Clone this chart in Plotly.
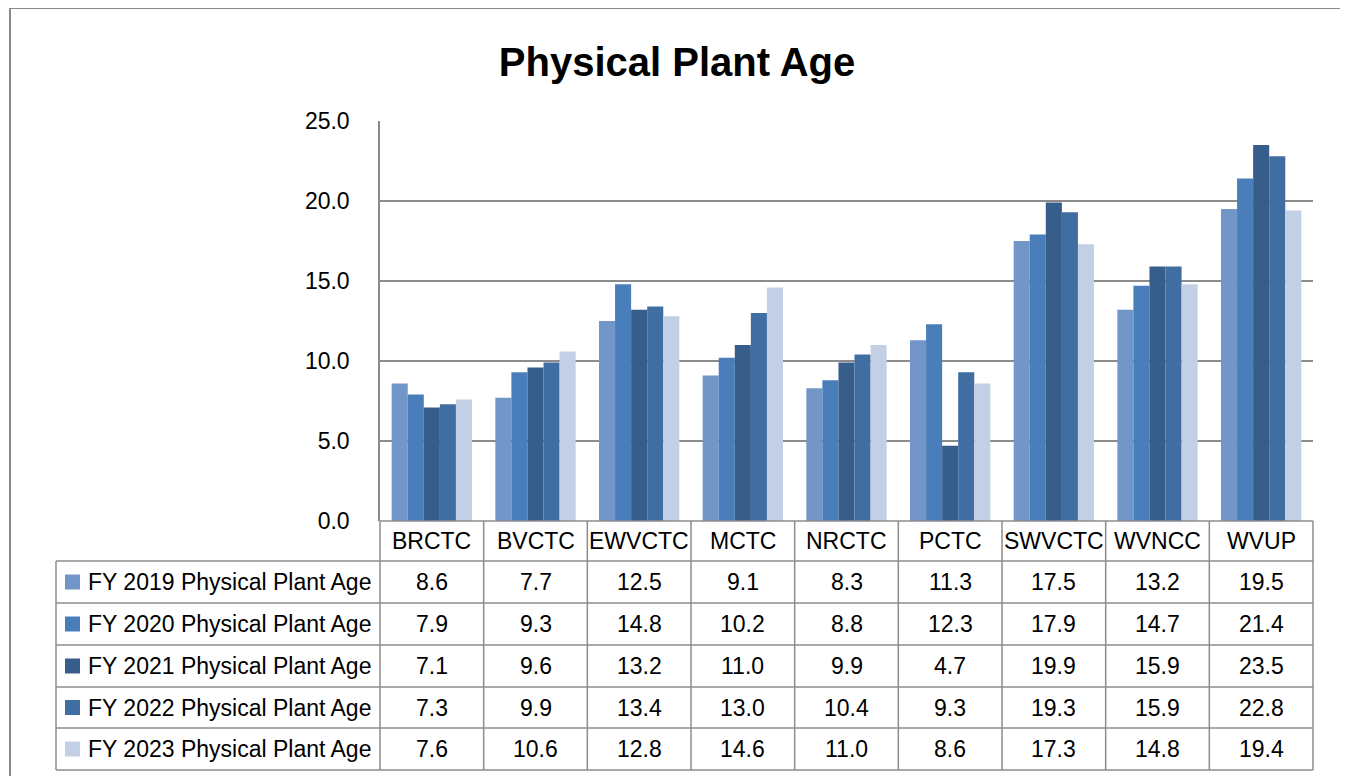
import plotly.graph_objects as go

categories = ["BRCTC", "BVCTC", "EWVCTC", "MCTC", "NRCTC", "PCTC", "SWVCTC", "WVNCC", "WVUP"]
series_names = ["FY 2019 Physical Plant Age", "FY 2020 Physical Plant Age", "FY 2021 Physical Plant Age",
                "FY 2022 Physical Plant Age", "FY 2023 Physical Plant Age"]
fy2019 = [8.6, 7.7, 12.5, 9.1, 8.3, 11.3, 17.5, 13.2, 19.5]
fy2020 = [7.9, 9.3, 14.8, 10.2, 8.8, 12.3, 17.9, 14.7, 21.4]
fy2021 = [7.1, 9.6, 13.2, 11.0, 9.9, 4.7, 19.9, 15.9, 23.5]
fy2022 = [7.3, 9.9, 13.4, 13.0, 10.4, 9.3, 19.3, 15.9, 22.8]
fy2023 = [7.6, 10.6, 12.8, 14.6, 11.0, 8.6, 17.3, 14.8, 19.4]
series_values = [fy2019, fy2020, fy2021, fy2022, fy2023]
colors = ["#7396C8", "#4A7EBB", "#375D8B", "#406EA3", "#C3CFE4"]
y_ticks = [0, 5, 10, 15, 20, 25]

OFF = 8  # page body margin
W, H = 1348 - OFF, 776 - OFF
L, R, T, B = 380 - OFF, 1313 - OFF, 121 - OFF, 521 - OFF
PW, PH = R - L, B - T
FONT = "Liberation Sans"
FS = 23
GRID = "#8c8c8c"

def px(xp):
    return (xp - OFF - L) / PW

def py(yp):
    return (B - (yp - OFF)) / PH

fig = go.Figure()
for name, vals, col in zip(series_names, series_values, colors):
    fig.add_trace(go.Bar(x=categories, y=vals, name=name, marker=dict(color=col, line=dict(width=0))))

shapes = []
ann = []
# outer border
shapes.append(dict(type="rect", xref="paper", yref="paper", x0=px(10), x1=px(1342), y0=py(8), y1=py(800),
                   line=dict(color="#8a8a8a", width=2), layer="below"))
# table geometry
row_lines = [521, 561, 603, 645, 687, 728, 770]
n = len(categories)
tl = dict(color=GRID, width=1.5)
shapes.append(dict(type="line", xref="paper", yref="paper", x0=0, x1=1, y0=py(row_lines[0]), y1=py(row_lines[0]), line=tl))
for yl in row_lines[1:]:
    shapes.append(dict(type="line", xref="paper", yref="paper", x0=px(56), x1=1, y0=py(yl), y1=py(yl), line=tl))
for k in range(n + 1):
    shapes.append(dict(type="line", xref="paper", yref="paper", x0=k / n, x1=k / n,
                       y0=py(row_lines[0]), y1=py(row_lines[-1]), line=tl))
shapes.append(dict(type="line", xref="paper", yref="paper", x0=px(56), x1=px(56),
                   y0=py(row_lines[1]), y1=py(row_lines[-1]), line=tl))

hc = (row_lines[0] + row_lines[1]) / 2
for c in categories:
    ann.append(dict(x=c, xref="x", y=py(hc), yref="paper", text=c, showarrow=False,
                    font=dict(family=FONT, size=FS, color="black"), xanchor="center", yanchor="middle"))
for i, (name, vals, col) in enumerate(zip(series_names, series_values, colors)):
    yc = (row_lines[i + 1] + row_lines[i + 2]) / 2
    shapes.append(dict(type="rect", xref="paper", yref="paper", x0=px(65), x1=px(80),
                       y0=py(yc - 7.5), y1=py(yc + 7.5), fillcolor=col, line=dict(width=0)))
    ann.append(dict(x=px(86), xref="paper", y=py(yc), yref="paper", text=name, showarrow=False,
                    font=dict(family=FONT, size=FS, color="black"), xanchor="left", yanchor="middle"))
    for c, v in zip(categories, vals):
        ann.append(dict(x=c, xref="x", y=py(yc), yref="paper", text=f"{v:.1f}", showarrow=False,
                        font=dict(family=FONT, size=FS, color="black"), xanchor="center", yanchor="middle"))

fig.update_layout(
    width=W, height=H,
    margin=dict(l=L, r=W - R, t=T, b=H - B, pad=0),
    paper_bgcolor="white", plot_bgcolor="white",
    showlegend=False,
    barmode="group", bargap=0.225, bargroupgap=0,
    title=dict(text="<b>Physical Plant Age</b>", x=(677 - OFF) / W, xref="container", xanchor="center",
               y=1 - (62 - OFF) / H, yref="container", yanchor="middle",
               font=dict(family=FONT, size=40, color="black")),
    xaxis=dict(showticklabels=False, showgrid=False, zeroline=False, showline=False, ticks="",
               range=[-0.5, n - 0.5]),
    yaxis=dict(range=[0, 25], tickvals=y_ticks, ticktext=[f"{v:.1f}" for v in y_ticks],
               showgrid=True, gridcolor=GRID, gridwidth=1.5, zeroline=False,
               showline=True, linecolor=GRID, linewidth=1.5, ticks="", ticklabelstandoff=24,
               tickfont=dict(family=FONT, size=FS, color="black")),
    shapes=shapes, annotations=ann,
)
fig.write_html("out.html")
